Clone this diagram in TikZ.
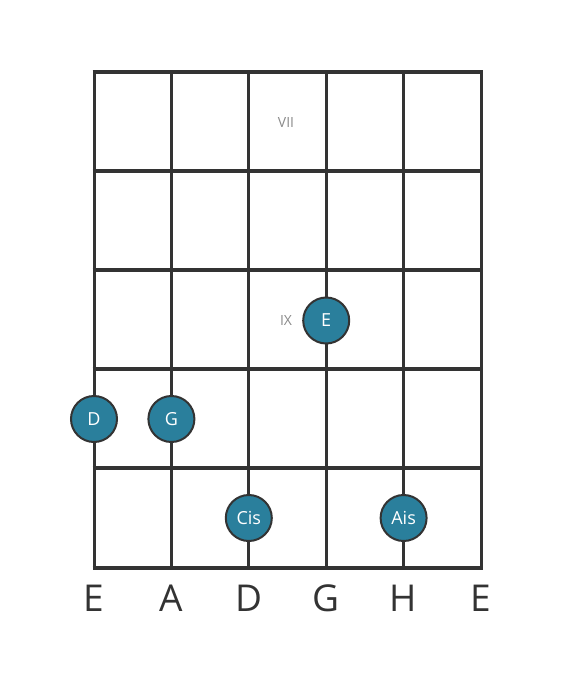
\documentclass[tikz,border=0pt]{standalone}
\usepackage{fontspec}
\setmainfont{Open Sans}
\definecolor{ink}{HTML}{333333}
\definecolor{dotfill}{HTML}{2A7F9C}
\definecolor{romangray}{HTML}{8A8A8A}
\tikzset{
  fretline/.style={draw=ink, line width=4.5pt},
  stringline/.style={draw=ink, line width=3pt},
  notedot/.style={circle, draw=ink, line width=2pt, fill=dotfill, minimum size=46pt, inner sep=0pt, text=white, font=\fontsize{18}{18}\selectfont},
  roman/.style={text=romangray, font=\fontsize{14}{14}\selectfont},
  strname/.style={text=ink, font=\fontsize{37}{37}\selectfont}
}
\begin{document}
\begin{tikzpicture}[x=1pt,y=-1pt]
\useasboundingbox (0,0) rectangle (560,682);
\foreach \i/\x in {0/94,1/171.4,2/248.8,3/326.2,4/403.6,5/481} {
  \coordinate (st\i) at (\x,72);
  \coordinate (sb\i) at (\x,568);
  \draw[stringline] (st\i) -- (sb\i);
}
\foreach \j/\y in {0/72,1/171,2/270,3/369,4/468,5/568} {
  \coordinate (fl\j) at (92.5,\y);
  \coordinate (fr\j) at (482.5,\y);
  \draw[fretline] (fl\j) -- (fr\j);
}
\node[roman] (vii) at (286,123) {VII};
\node[roman] (ix) at (286,321) {IX};
\node[notedot] (nE) at (326.2,320.5) {E};
\node[notedot] (nD) at (94,419) {D};
\node[notedot] (nG) at (171.4,419) {G};
\node[notedot] (nCis) at (248.8,518) {Cis};
\node[notedot] (nAis) at (403.6,518) {Ais};
\foreach \i/\x/\n in {0/94/E,1/171.4/A,2/248.8/D,3/326.2/G,4/403.6/H,5/481/E} {
  \node[strname] (lab\i) at (\x,598) {\n};
}
\end{tikzpicture}
\end{document}
